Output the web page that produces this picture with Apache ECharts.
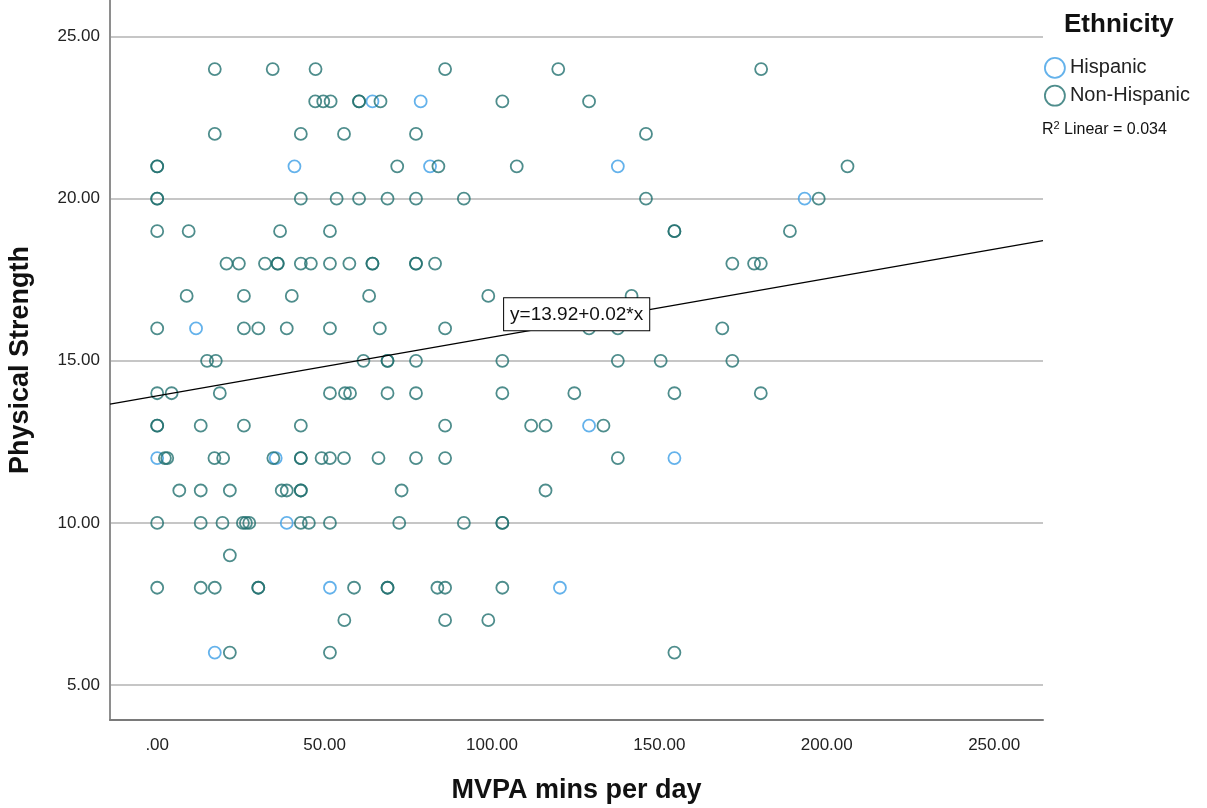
<!DOCTYPE html>
<html>
<head>
<meta charset="utf-8">
<title>Physical Strength by MVPA</title>
<script src="https://cdn.jsdelivr.net/npm/echarts@6/dist/echarts.min.js"></script>
<style>
  html, body { margin: 0; padding: 0; background: #fff; }
  #chart { width: 1207px; height: 808px; }
</style>
</head>
<body>
<div id="chart"></div>
<script>
// MVPA minutes per day and physical strength score, Hispanic participants
const hispanicMvpa     = [64.3, 78.7, 41.0, 81.5, 137.6, 193.4, 11.6, 129.0, 0, 35.4, 154.5, 38.7, 51.6, 120.3, 17.2];
const hispanicStrength = [23,   23,   21,   21,   21,    20,    16,   13,    12, 12,   12,    10,   8,    8,     6];

// Non-Hispanic participants, listed strength row by strength row
const nonHispanicMvpa = [
  17.2, 34.5, 47.3, 86.0, 119.8, 180.4,
  47.2, 49.6, 51.8, 60.3, 60.3, 66.7, 103.1, 129.0,
  17.2, 42.9, 55.8, 77.3, 146.0,
  0, 0, 71.7, 84.0, 107.4, 206.2,
  0, 0, 42.9, 53.6, 60.3, 68.8, 77.3, 91.6, 146.0, 197.6,
  0, 9.4, 36.7, 51.6, 154.5, 154.5, 189.0,
  20.7, 24.4, 32.2, 36.0, 36.0, 42.9, 45.9, 51.6, 57.4, 64.3, 64.3, 77.3, 77.3, 83.0, 171.8, 178.3, 180.3,
  8.8, 25.9, 40.2, 63.3, 98.9, 141.7,
  0, 25.9, 30.2, 38.7, 51.6, 66.5, 86.0, 129.0, 137.6, 168.8,
  14.9, 17.5, 61.6, 68.8, 68.8, 77.3, 103.1, 137.6, 150.4, 171.8,
  0, 4.3, 18.7, 51.6, 56.1, 57.6, 68.8, 77.3, 103.1, 124.6, 154.5, 180.3,
  0, 0, 13.0, 25.9, 42.9, 86.0, 111.7, 116.0, 133.3,
  2.3, 3.0, 17.1, 19.7, 34.7, 42.9, 42.9, 49.1, 51.6, 55.8, 66.1, 77.3, 86.0, 137.6,
  6.6, 13.0, 21.7, 37.2, 38.7, 42.9, 42.9, 73.0, 116.0,
  0, 13.0, 19.5, 25.6, 26.5, 27.5, 42.9, 45.3, 51.6, 72.3, 91.6, 103.1, 103.1,
  21.7,
  0, 13.0, 17.2, 30.2, 30.2, 58.8, 68.8, 68.8, 83.7, 86.0, 103.1,
  55.9, 86.0, 98.9,
  21.7, 51.6, 154.5
];
const nonHispanicStrength = [
  24, 24, 24, 24, 24, 24,
  23, 23, 23, 23, 23, 23, 23, 23,
  22, 22, 22, 22, 22,
  21, 21, 21, 21, 21, 21,
  20, 20, 20, 20, 20, 20, 20, 20, 20, 20,
  19, 19, 19, 19, 19, 19, 19,
  18, 18, 18, 18, 18, 18, 18, 18, 18, 18, 18, 18, 18, 18, 18, 18, 18,
  17, 17, 17, 17, 17, 17,
  16, 16, 16, 16, 16, 16, 16, 16, 16, 16,
  15, 15, 15, 15, 15, 15, 15, 15, 15, 15,
  14, 14, 14, 14, 14, 14, 14, 14, 14, 14, 14, 14,
  13, 13, 13, 13, 13, 13, 13, 13, 13,
  12, 12, 12, 12, 12, 12, 12, 12, 12, 12, 12, 12, 12, 12,
  11, 11, 11, 11, 11, 11, 11, 11, 11,
  10, 10, 10, 10, 10, 10, 10, 10, 10, 10, 10, 10, 10,
  9,
  8, 8, 8, 8, 8, 8, 8, 8, 8, 8, 8,
  7, 7, 7,
  6, 6, 6
];

// Axis tick values
const xTicks = [0, 50, 100, 150, 200, 250];
const yTicks = [5, 10, 15, 20, 25];

// Linear fit of strength on MVPA
const fitIntercept = 13.92;
const fitSlope = 0.0181;
const rSquared = 0.034;

const X_MIN = -14.1, X_MAX = 264.6;
const Y_MIN = 3.92, Y_MAX = 26.13;

const FONT = 'Liberation Sans, Arial, sans-serif';
const COLOR_HISP = '#3d9fe6';
const COLOR_NONHISP = '#22706f';

const zip = (xs, ys) => xs.map((x, i) => [x, ys[i]]);
const spssNum = v => { const s = Number(v).toFixed(2); return s.startsWith('0.') ? s.slice(1) : s; };
const fitAt = x => fitIntercept + fitSlope * x;

const labelX = 125.3;
const fitLabel = 'y=' + fitIntercept.toFixed(2) + '+' + fitSlope.toFixed(2) + '*x';

const ringStyle = color => ({ color: 'transparent', borderColor: color, borderWidth: 1.8 });

const chart = echarts.init(document.getElementById('chart'), null, { renderer: 'canvas' });
chart.setOption({
  backgroundColor: '#fff',
  animation: false,
  textStyle: { fontFamily: FONT },
  grid: { left: 110, right: 164, top: 0, bottom: 88, containLabel: false, outerBoundsMode: 'none' },
  xAxis: {
    type: 'value',
    min: X_MIN, max: X_MAX,
    name: 'MVPA mins per day',
    nameLocation: 'middle',
    nameGap: 57,
    nameTextStyle: { fontFamily: FONT, fontSize: 27, fontWeight: 'bold', color: '#111' },
    axisLine: { show: true, onZero: false, lineStyle: { color: '#7a7a7a', width: 2 } },
    axisTick: { show: false, customValues: xTicks },
    axisLabel: { customValues: xTicks, formatter: spssNum, fontFamily: FONT, fontSize: 17, color: '#222', margin: 17 },
    splitLine: { show: false }
  },
  yAxis: {
    type: 'value',
    min: Y_MIN, max: Y_MAX,
    name: 'Physical Strength',
    nameLocation: 'middle',
    nameGap: 76,
    nameRotate: 90,
    nameTextStyle: { fontFamily: FONT, fontSize: 27, fontWeight: 'bold', color: '#111' },
    axisLine: { show: true, onZero: false, lineStyle: { color: '#8e8e8e', width: 2 } },
    axisTick: { show: false, customValues: yTicks },
    axisLabel: { customValues: yTicks, formatter: spssNum, fontFamily: FONT, fontSize: 17, color: '#222', margin: 10 },
    splitLine: { show: true, lineStyle: { color: '#b3b3b3', width: 1.5 } }
  },
  legend: {
    orient: 'vertical',
    left: 1044, top: 57,
    padding: 0,
    itemWidth: 20, itemHeight: 20, itemGap: 6,
    icon: 'circle',
    textStyle: { fontFamily: FONT, fontSize: 20, color: '#222' },
    data: [
      { name: 'Hispanic', itemStyle: ringStyle(COLOR_HISP) },
      { name: 'Non-Hispanic', itemStyle: ringStyle(COLOR_NONHISP) }
    ],
    selectedMode: false
  },
  graphic: [
    {
      type: 'text', left: 1064, top: 12,
      style: { text: 'Ethnicity', font: 'bold 26px ' + FONT, fill: '#111' }
    },
    {
      type: 'text', left: 1042, top: 120,
      style: {
        text: '{r|R}{s|2}{r| Linear = ' + rSquared.toFixed(3) + '}',
        rich: {
          r: { fontFamily: FONT, fontSize: 16, fill: '#111', color: '#111' },
          s: { fontFamily: FONT, fontSize: 11, fill: '#111', color: '#111', verticalAlign: 'top', padding: [0, 0, 8, 0] }
        }
      }
    }
  ],
  series: [
    {
      name: 'Hispanic',
      type: 'scatter',
      symbol: 'circle',
      symbolSize: 12,
      itemStyle: ringStyle(COLOR_HISP),
      data: zip(hispanicMvpa, hispanicStrength),
      z: 3
    },
    {
      name: 'Non-Hispanic',
      type: 'scatter',
      symbol: 'circle',
      symbolSize: 12,
      itemStyle: ringStyle(COLOR_NONHISP),
      data: zip(nonHispanicMvpa, nonHispanicStrength),
      z: 3
    },
    {
      name: 'Linear fit',
      type: 'line',
      showSymbol: false,
      silent: true,
      lineStyle: { color: '#000', width: 1.3 },
      data: [[X_MIN, fitAt(X_MIN)], [X_MAX, fitAt(X_MAX)]],
      z: 4,
      markPoint: {
        silent: true,
        symbol: 'rect',
        symbolSize: 0,
        data: [{ coord: [labelX, fitAt(labelX)] }],
        label: {
          show: true,
          position: 'inside',
          offset: [0, -8],
          formatter: fitLabel,
          fontFamily: FONT,
          fontSize: 19,
          color: '#111',
          backgroundColor: '#fff',
          borderColor: '#000',
          borderWidth: 1,
          padding: [7, 6, 6, 6]
        },
        z: 10
      }
    }
  ]
});
</script>
</body>
</html>
